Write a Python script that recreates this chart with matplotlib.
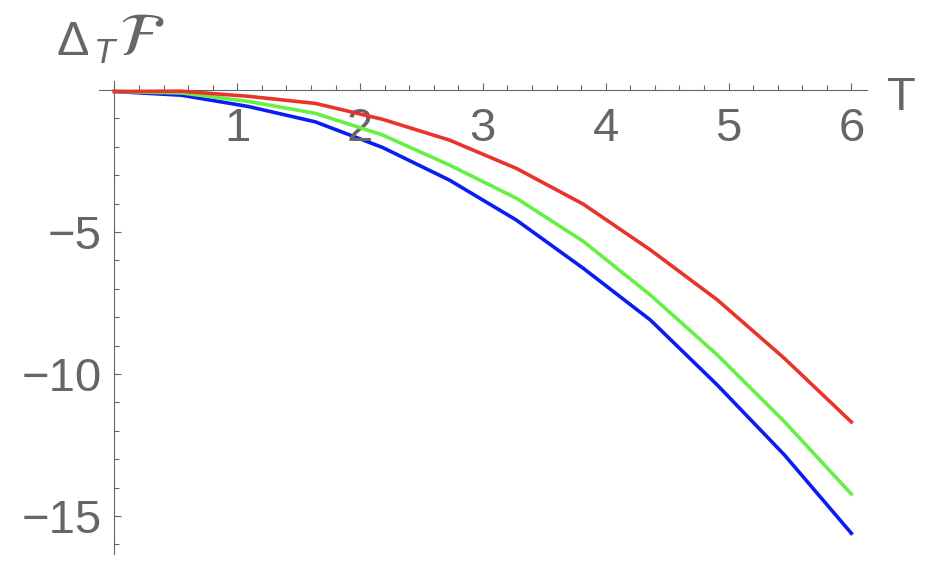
import matplotlib
matplotlib.use("Agg")
import matplotlib.pyplot as plt
from matplotlib.ticker import MultipleLocator

# ================= DATA =================
T = [0.0, 0.545, 1.091, 1.636, 2.182, 2.727, 3.273, 3.818, 4.364, 4.909, 5.455, 6.0]
red_vals = [-0.05, -0.04, -0.22, -0.47, -1.03, -1.76, -2.76, -4.02, -5.63, -7.39, -9.45, -11.69]
green_vals = [-0.05, -0.10, -0.40, -0.82, -1.58, -2.64, -3.81, -5.33, -7.22, -9.33, -11.68, -14.23]
blue_vals = [-0.05, -0.18, -0.58, -1.12, -2.02, -3.17, -4.58, -6.28, -8.10, -10.39, -12.85, -15.61]

x_major = [1, 2, 3, 4, 5, 6]
y_major = [-15, -10, -5]

W, H = 930, 576
GRAY = "#666666"

plt.rcParams['font.family'] = ['Liberation Sans', 'DejaVu Sans']

fig = plt.figure(figsize=(W / 100, H / 100), dpi=100)
ax = fig.add_axes([99 / W, (H - 554) / H, 767.7 / W, 473.3 / H])

ax.plot(T, red_vals, color="#E8342A", lw=2.6, solid_joinstyle="round", zorder=3)
ax.plot(T, green_vals, color="#66F044", lw=2.6, solid_joinstyle="round", zorder=2)
ax.plot(T, blue_vals, color="#0B1EF2", lw=2.6, solid_joinstyle="round", zorder=1)

ax.set_xlim(-0.126, 6.125)
ax.set_ylim(-16.34, 0.33)

# axes through the origin, mathematica style
for side in ["top", "right"]:
    ax.spines[side].set_visible(False)
for side in ["left", "bottom"]:
    ax.spines[side].set_position(("data", 0))
    ax.spines[side].set_color(GRAY)
    ax.spines[side].set_linewidth(0.8)

ax.set_xticks(x_major)
ax.set_yticks(y_major)
ax.set_yticklabels([str(v).replace("-", "\u2212") for v in y_major])
ax.xaxis.set_minor_locator(MultipleLocator(0.2))
ax.yaxis.set_minor_locator(MultipleLocator(1))

ax.tick_params(which="both", direction="in", color=GRAY, width=0.8,
               labelcolor=GRAY, labelsize=34)
ax.tick_params(which="major", length=5)
ax.tick_params(which="minor", length=3.8)
ax.tick_params(axis="x", which="major", pad=12.5)
ax.tick_params(axis="y", which="major", pad=9)

# axis labels
fig.text(901 / W, 1 - 110 / H, "T", ha="center", va="baseline",
         fontsize=34, color=GRAY)
fig.text(56 / W, 1 - 55 / H, "\u0394", ha="left", va="baseline",
         fontsize=35, color=GRAY)
fig.text(94 / W, 1 - 63 / H, "T", ha="left", va="baseline",
         fontsize=25, color=GRAY, style="italic")
fig.text(119 / W, 1 - 55 / H, r"$\mathcal{F}$", ha="left", va="baseline",
         fontsize=44, color=GRAY, math_fontfamily="stix")

fig.savefig("out.png", dpi=100)
